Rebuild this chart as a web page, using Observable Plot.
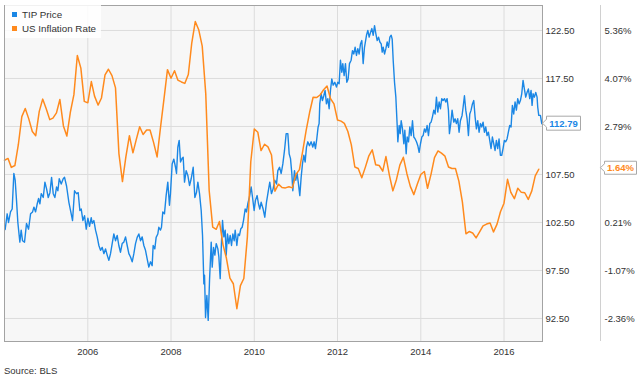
<!DOCTYPE html>
<html>
<head>
<meta charset="utf-8">
<script src="https://cdn.jsdelivr.net/npm/d3@7"></script>
<script src="https://cdn.jsdelivr.net/npm/@observablehq/plot@0.6"></script>
<style>
  html, body { margin: 0; padding: 0; background: #fff; }
  body { font-family: "Liberation Sans", Arial, sans-serif; }
  #wrap { position: relative; width: 640px; height: 380px; }
  #legend { position: absolute; left: 5px; top: 5px; width: 96px; height: 33px;
    background: rgba(255,255,255,0.85); font-size: 9.8px; color: #333; }
  #legend .row { position: absolute; left: 7px; height: 14px; line-height: 14px; white-space: nowrap; }
  #legend .sw { display: inline-block; width: 5px; height: 5px; margin-right: 5px; vertical-align: 1px; }
  #source { position: absolute; left: 4px; top: 365px; font-size: 9.5px; color: #333; line-height: 12px; }
</style>
</head>
<body>
<div id="wrap">
  <div id="chart"></div>
  <div id="legend"></div>
  <div id="source"></div>
</div>
<script>
// ---------- data ----------
const seriesNames = ["TIP Price", "US Inflation Rate"];
const seriesColors = ["#1b87e5", "#ff8a1d"];

// TIP price, dates as decimal years
const tipDates = [
2004.016,2004.064,2004.096,2004.144,2004.184,2004.224,2004.256,2004.288,2004.320,2004.368,2004.400,2004.432,2004.480,2004.528,2004.577,2004.625,2004.673,2004.705,2004.745,2004.785,2004.817,2004.849,2004.881,2004.929,2004.969,
2005.009,2005.049,2005.089,2005.129,2005.169,2005.209,2005.249,2005.281,2005.313,2005.361,2005.409,2005.441,2005.489,2005.545,2005.601,2005.633,2005.681,2005.729,2005.769,2005.809,2005.842,2005.882,2005.922,2005.962,
2006.002,2006.042,2006.082,2006.106,2006.146,2006.186,2006.226,2006.266,2006.306,2006.346,2006.386,2006.426,2006.466,2006.506,2006.546,2006.586,2006.626,2006.666,2006.706,2006.746,2006.786,2006.826,2006.866,2006.907,2006.947,2006.987,
2007.027,2007.067,2007.107,2007.147,2007.187,2007.227,2007.267,2007.307,2007.347,2007.387,2007.427,2007.467,2007.507,2007.547,2007.571,2007.611,2007.643,2007.683,2007.707,2007.747,2007.771,2007.803,2007.843,2007.883,2007.923,2007.963,2007.987,
2008.028,2008.068,2008.108,2008.132,2008.164,2008.196,2008.228,2008.268,2008.292,2008.324,2008.364,2008.404,2008.444,2008.484,2008.532,2008.572,2008.612,2008.644,2008.684,2008.724,2008.756,2008.788,2008.804,2008.828,2008.860,2008.892,2008.924,2008.964,2008.988,
2009.020,2009.052,2009.084,2009.124,2009.148,2009.180,2009.212,2009.236,2009.268,2009.300,2009.324,2009.356,2009.388,2009.420,2009.452,2009.484,2009.516,2009.540,2009.580,2009.612,2009.644,2009.676,2009.708,2009.740,2009.780,2009.812,2009.844,2009.884,2009.924,2009.956,2009.996,
2010.028,2010.068,2010.100,2010.132,2010.164,2010.212,2010.252,2010.292,2010.332,2010.372,2010.412,2010.452,2010.492,2010.534,2010.566,2010.606,2010.646,2010.686,2010.726,2010.766,2010.806,2010.838,2010.870,2010.902,2010.926,2010.966,2010.998,
2011.030,2011.062,2011.094,2011.126,2011.158,2011.190,2011.222,2011.254,2011.286,2011.326,2011.366,2011.406,2011.438,2011.470,2011.502,2011.534,2011.558,2011.574,2011.606,2011.638,2011.670,2011.702,2011.734,2011.767,2011.799,2011.831,2011.863,2011.895,2011.935,2011.975,
2012.007,2012.039,2012.071,2012.103,2012.127,2012.159,2012.191,2012.223,2012.255,2012.287,2012.327,2012.359,2012.391,2012.423,2012.455,2012.487,2012.519,2012.551,2012.583,2012.615,2012.647,2012.695,2012.727,2012.759,2012.792,2012.824,2012.856,2012.888,2012.920,2012.952,2012.984,
2013.016,2013.048,2013.072,2013.096,2013.128,2013.160,2013.192,2013.224,2013.256,2013.288,2013.312,2013.336,2013.368,2013.400,2013.432,2013.448,2013.480,2013.504,2013.528,2013.560,2013.592,2013.616,2013.648,2013.672,2013.704,2013.736,2013.768,2013.800,2013.832,2013.864,2013.896,2013.928,2013.960,2013.992,
2014.024,2014.056,2014.088,2014.120,2014.152,2014.184,2014.216,2014.248,2014.280,2014.312,2014.344,2014.376,2014.408,2014.440,2014.472,2014.504,2014.536,2014.568,2014.600,2014.632,2014.664,2014.688,2014.720,2014.752,2014.792,2014.824,2014.856,2014.888,2014.920,2014.952,2014.992,
2015.017,2015.049,2015.081,2015.113,2015.145,2015.177,2015.209,2015.241,2015.273,2015.305,2015.337,2015.369,2015.401,2015.433,2015.465,2015.497,2015.529,2015.561,2015.593,2015.625,2015.657,2015.689,2015.721,2015.753,2015.785,2015.817,2015.849,2015.881,2015.913,2015.945,2015.977,
2016.009,2016.041,2016.073,2016.105,2016.137,2016.169,2016.201,2016.233,2016.265,2016.297,2016.329,2016.361,2016.393,2016.425,2016.457,2016.489,2016.521,2016.553,2016.585,2016.617,2016.649,2016.673,2016.697,2016.729,2016.761,2016.793,2016.809,2016.833,2016.873,2016.905
];
const tipPrices = [
101.77,103.4,102.5,103.6,103.9,107.6,106.9,104.8,102.5,100.45,101.7,100.6,100.45,102.4,101.8,103.4,103.6,104.1,103.6,104.45,105.0,104.45,105.5,105.1,106.7,
106.0,105.1,105.6,107.2,105.5,105.1,106.2,105.8,107.05,106.5,107.05,107.2,106.3,104.6,103.4,102.7,105.8,105.5,105.6,103.75,103.9,102.7,103.2,101.8,
102.95,102.1,103.0,102.4,102.7,101.7,101.0,100.1,99.6,99.9,99.25,99.75,99.1,98.55,99.25,100.3,101.3,100.6,101.15,100.1,99.4,100.3,100.45,101.0,100.1,99.25,
98.9,98.4,99.25,100.3,100.95,101.3,100.6,101.0,100.1,99.6,98.7,97.85,98.4,98.0,100.1,99.75,100.95,101.3,102.0,101.7,102.0,103.6,103.4,105.3,106.7,104.3,105.5,
108.6,109.1,108.25,107.6,110.35,111.05,108.8,109.2,109.3,106.7,107.9,107.4,106.35,107.05,108.25,105.1,105.65,106.7,105.5,103.75,101.15,96.1,97.0,92.6,94.9,92.3,96.5,100.45,97.85,
99.9,99.1,100.3,99.75,98.9,96.65,100.6,102.7,101.0,101.7,99.1,101.3,100.3,101.15,100.1,101.3,100.6,101.7,100.1,101.3,101.15,101.85,102.0,102.7,103.9,103.6,104.45,105.15,106.2,105.15,103.75,
104.8,105.3,104.45,103.9,104.6,103.9,103.05,104.6,105.65,106.7,105.5,106.0,106.9,106.5,107.9,108.25,107.6,108.6,110.0,111.75,111.75,109.65,109.15,107.6,105.8,107.9,106.9,
107.6,106.5,105.3,107.2,108.6,109.5,108.8,110.35,110.9,110.5,110.9,110.35,110.9,110.2,111.2,112.45,112.8,114.85,115.9,115.2,115.7,116.25,114.85,115.4,114.35,116.25,117.45,116.8,117.1,116.6,
117.1,116.95,119.4,118.15,119.05,117.8,119.05,117.1,117.45,119.05,119.4,120.4,120.05,120.75,119.9,120.6,120.05,121.1,121.45,119.05,120.75,122.0,122.5,121.8,122.3,122.7,122.0,123.0,122.15,121.45,121.8,
121.3,121.1,120.25,120.75,120.05,120.6,121.3,120.75,121.8,122.0,121.6,119.4,117.1,115.55,112.6,110.9,112.6,111.75,113.1,112.25,110.7,112.1,109.65,111.4,110.9,112.45,111.55,113.1,111.4,111.2,110.9,110.5,109.8,110.7,
111.4,111.55,112.25,111.9,112.6,111.55,112.8,112.95,113.5,114.2,113.8,115.55,114.0,115.05,114.35,115.4,115.2,115.4,115.05,115.4,114.2,111.75,112.8,114.2,112.95,113.3,112.8,113.3,111.9,113.1,113.65,
114.5,115.7,114.2,113.3,111.55,113.8,114.2,114.85,115.2,113.5,112.25,113.1,111.9,112.8,112.45,112.95,111.9,112.45,111.55,111.9,111.05,110.2,111.4,110.7,110.0,111.05,110.2,111.2,109.5,109.5,110.2,
111.05,110.9,111.2,111.9,112.6,112.45,114.7,113.8,115.05,114.2,115.4,114.85,115.2,115.9,117.3,116.4,115.55,116.05,116.4,115.4,116.25,114.7,115.9,115.55,116.05,115.55,114.5,113.65,113.65,112.79
];

// US inflation rate (CPI, % y/y), monthly from Dec 2003, each value shown at its month end
const inflStartYear = 2003, inflStartMonth = 11; // December 2003 (0-based month)
const inflRates = [
1.88,
1.93,1.69,1.74,2.29,3.05,3.27,2.99,2.65,2.54,3.19,3.52,3.26,
2.97,3.01,3.15,3.51,2.80,2.53,3.17,3.64,4.69,4.35,3.46,3.42,
3.99,3.60,3.36,3.55,4.17,4.32,4.15,3.82,2.06,1.31,1.97,2.54,
2.08,2.42,2.78,2.57,2.69,2.69,2.36,1.97,2.76,3.54,4.31,4.08,
4.28,4.03,3.98,3.94,4.18,5.02,5.60,5.37,4.94,3.66,1.07,0.09,
0.03,0.24,-0.38,-0.74,-1.28,-1.43,-2.10,-1.48,-1.29,-0.18,1.84,2.72,
2.63,2.14,2.31,2.24,2.02,1.05,1.24,1.15,1.14,1.17,1.14,1.50,
1.63,2.11,2.68,3.16,3.57,3.56,3.63,3.77,3.87,3.53,3.39,2.96,
2.93,2.87,2.65,2.30,1.70,1.66,1.41,1.69,1.99,2.16,1.76,1.74,
1.59,1.98,1.47,1.06,1.36,1.75,1.96,1.52,1.18,0.96,1.24,1.50,
1.58,1.13,1.51,1.95,2.13,2.07,1.99,1.70,1.66,1.66,1.32,0.76,
-0.09,-0.03,-0.07,-0.20,-0.04,0.12,0.17,0.20,-0.04,0.17,0.50,0.73,
1.37,1.02,0.85,1.13,1.02,1.01,0.83,1.06,1.46,1.64
];

// axis ticks (gridlines at every price tick; labels hidden under the end-value tags are not shown)
const priceTicks = [92.5, 97.5, 102.5, 107.5, 112.5, 117.5, 122.5];
const pctTickLabels = ["-2.36%", "-1.07%", "0.21%", "1.50%", "2.79%", "4.07%", "5.36%"];
const priceLabelTicks = [92.5, 97.5, 102.5, 107.5, 117.5, 122.5];
const pctLabelTicks = [92.5, 97.5, 102.5, 112.5, 117.5, 122.5];
const yearTicks = [2006, 2008, 2010, 2012, 2014, 2016];
const xExtent = [2004.0, 2016.923];
const yExtent = [90.1, 125.1];
const sourceText = "Source: BLS";

// ---------- build ----------
function decYear(v) {
  const yr = Math.floor(v);
  const a = Date.UTC(yr, 0, 1), b = Date.UTC(yr + 1, 0, 1);
  return new Date(a + (v - yr) * (b - a));
}
const tip = tipDates.map((d, i) => ({date: decYear(d), price: tipPrices[i]}));
const infl = inflRates.map((r, i) => ({date: new Date(Date.UTC(inflStartYear, inflStartMonth + i + 1, 1)), rate: r}));
const pctVals = pctTickLabels.map(s => parseFloat(s));
const pctToPrice = d3.scaleLinear()
  .domain([pctVals[0], pctVals[pctVals.length - 1]])
  .range([priceTicks[0], priceTicks[priceTicks.length - 1]]);
const yearDates = yearTicks.map(y => new Date(Date.UTC(y, 0, 1)));
const xMax = decYear(xExtent[1]);

const [blue, orange] = seriesColors;
const chart = Plot.plot({
  width: 640, height: 362,
  marginLeft: 4, marginTop: 5, marginRight: 98, marginBottom: 21,
  style: {fontFamily: "'Liberation Sans', Arial, sans-serif", fontSize: "9.5px", color: "#333", background: "transparent", overflow: "visible"},
  x: {type: "utc", domain: [decYear(xExtent[0]), xMax]},
  y: {domain: yExtent},
  marks: [
    Plot.frame({fill: "#f7f7f7"}),
    Plot.gridX(yearDates, {stroke: "#dcdcdc", strokeOpacity: 1}),
    Plot.gridY(priceTicks, {stroke: "#dcdcdc", strokeOpacity: 1}),
    Plot.line(tip, {x: "date", y: "price", stroke: blue, strokeWidth: 1.4}),
    Plot.line(infl, {x: "date", y: d => pctToPrice(d.rate), stroke: orange, strokeWidth: 1.5}),
    Plot.frame({stroke: "#a3a3a3"}),
    Plot.ruleX([xMax], {dx: 58, stroke: "#d0d0d0"}),
    Plot.axisX({ticks: yearDates, tickFormat: d3.utcFormat("%Y"), tickSize: 0, tickPadding: 7, label: null}),
    Plot.axisY({anchor: "right", ticks: priceLabelTicks, tickFormat: d3.format(".2f"), tickSize: 0, tickPadding: 3, label: null}),
    Plot.axisY({anchor: "right", ticks: pctLabelTicks, tickFormat: d => pctTickLabels[priceTicks.indexOf(d)], tickSize: 0, tickPadding: 3, dx: 59, label: null})
  ]
});
document.getElementById("chart").appendChild(chart);

// end-value tags, positioned via the plot's own scales
const xs = chart.scale("x"), ys = chart.scale("y");
const right = xs.range[1];
const svg = d3.select(chart);
function tag(tipX, cy, boxX, w, h, text, color) {
  const t = cy - h / 2, b = cy + h / 2;
  const g = svg.append("g");
  g.append("path")
    .attr("d", `M${tipX},${cy}L${boxX},${cy - 4}L${boxX},${t}L${boxX + w},${t}L${boxX + w},${b}L${boxX},${b}L${boxX},${cy + 4}Z`)
    .attr("fill", "#fff").attr("stroke", "#a8a8a8").attr("stroke-width", 1);
  g.append("text").attr("x", boxX + w / 2).attr("y", cy).attr("dy", "0.35em")
    .attr("text-anchor", "middle").attr("fill", color).attr("font-weight", "bold")
    .attr("font-size", "9.5px").text(text);
}
const lastTip = tipPrices[tipPrices.length - 1];
const lastInfl = inflRates[inflRates.length - 1];
tag(right + 0.5, ys.apply(lastTip), right + 4.5, 34, 14, d3.format(".2f")(lastTip), blue);
tag(right + 58.5, ys.apply(pctToPrice(lastInfl)) - 1, right + 62.5, 32, 13, d3.format(".2f")(lastInfl) + "%", orange);

// legend
const legend = document.getElementById("legend");
seriesNames.forEach((name, i) => {
  const row = document.createElement("div");
  row.className = "row";
  row.style.top = (3 + i * 14) + "px";
  row.innerHTML = `<span class="sw" style="background:${seriesColors[i]}"></span>${name}`;
  legend.appendChild(row);
});
document.getElementById("source").textContent = sourceText;
</script>
</body>
</html>
